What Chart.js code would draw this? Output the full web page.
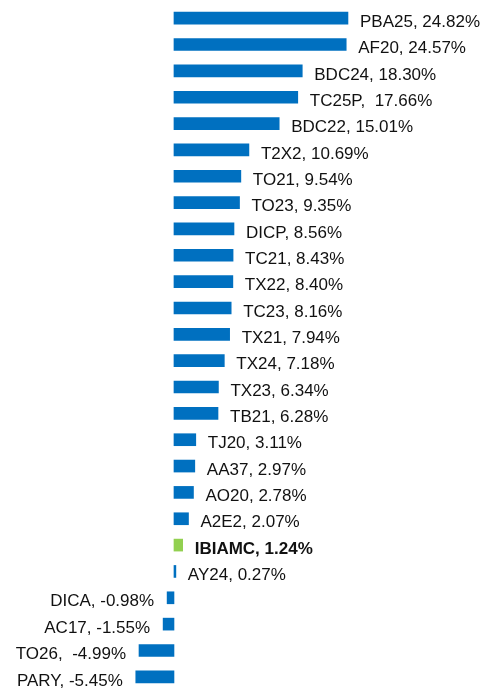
<!DOCTYPE html>
<html>
<head>
<meta charset="utf-8">
<script src="https://cdn.jsdelivr.net/npm/chart.js@4"></script>
<style>
  html, body { margin: 0; padding: 0; background: #fff; }
  #wrap { width: 489px; height: 690px; position: relative; }
</style>
</head>
<body>
<div id="wrap"><canvas id="graph1"></canvas></div>
<script>
// 銘柄名と騰落率(%)
const categories = ["PBA25", "AF20", "BDC24", "TC25P", "BDC22", "T2X2", "TO21", "TO23", "DICP", "TC21",
                    "TX22", "TC23", "TX21", "TX24", "TX23", "TB21", "TJ20", "AA37", "AO20", "A2E2",
                    "IBIAMC", "AY24", "DICA", "AC17", "TO26", "PARY"];
const values = [24.82, 24.57, 18.30, 17.66, 15.01, 10.69, 9.54, 9.35, 8.56, 8.43,
                8.40, 8.16, 7.94, 7.18, 6.34, 6.28, 3.11, 2.97, 2.78, 2.07,
                1.24, 0.27, -0.98, -1.55, -4.99, -5.45];
const highlight = "IBIAMC";
// 元のラベルでカンマの後ろが空白2つになっているもの
const wideGap = ["TC25P", "TO26"];

window.addEventListener("load", function () {
    const ctx = document.getElementById("graph1").getContext("2d");

    // バー右(左)に「名前, 値%」を描く
    const labelPlugin = {
        id: "barLabels",
        afterDatasetsDraw(chart) {
            const meta = chart.getDatasetMeta(0);
            const c = chart.ctx;
            c.save();
            c.fillStyle = "#111";
            c.textBaseline = "middle";
            meta.data.forEach(function (bar, i) {
                const name = categories[i];
                const v = values[i];
                const bold = name === highlight;
                c.font = (bold ? "bold " : "") + "17px 'Liberation Sans', Arial, sans-serif";
                const sep = wideGap.includes(name) ? ",  " : ", ";
                const txt = name + sep + v.toFixed(2) + "%";
                if (v >= 0) {
                    c.textAlign = "left";
                    c.fillText(txt, bar.x + 12, bar.y + 4);
                } else {
                    c.textAlign = "right";
                    c.fillText(txt, bar.x - 13, bar.y + 4);
                }
            });
            c.restore();
        }
    };

    new Chart(ctx, {
        type: "bar",
        data: {
            labels: categories,
            datasets: [{
                data: values,
                backgroundColor: categories.map(n => n === highlight ? "#92D050" : "#0070C0"),
                borderWidth: 0,
                barThickness: 12
            }]
        },
        options: {
            indexAxis: "y",
            responsive: true,
            maintainAspectRatio: false,
            animation: false,
            layout: { padding: { top: 5, bottom: 0, left: 0, right: 0 } },
            plugins: { legend: { display: false }, tooltip: { enabled: false } },
            scales: {
                x: { display: false, min: -24.82, max: 44.94 },
                y: { display: false }
            }
        },
        plugins: [labelPlugin]
    });
});
</script>
</body>
</html>
